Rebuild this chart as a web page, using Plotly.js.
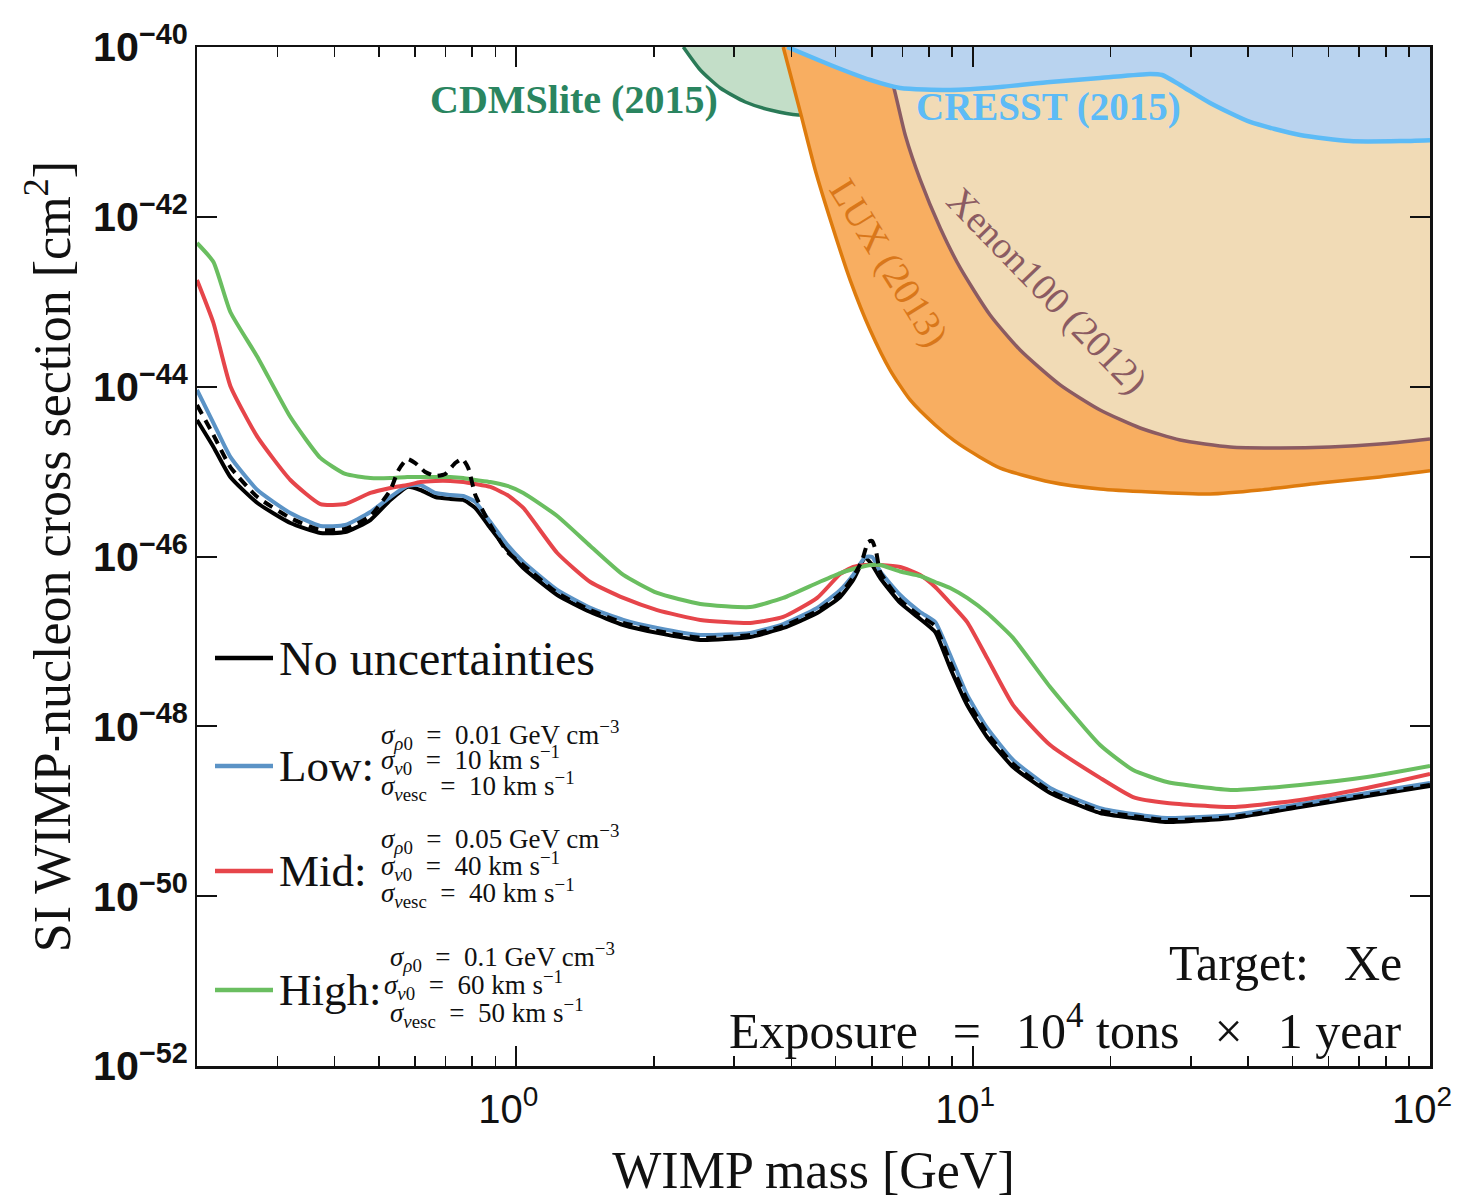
<!DOCTYPE html>
<html>
<head>
<meta charset="utf-8">
<script src="https://cdn.plot.ly/plotly-3.0.1.min.js"></script>
<style>
  html, body { margin: 0; padding: 0; background: #ffffff; }
  #chart { width: 1461px; height: 1199px; }
</style>
</head>
<body>
<div id="chart"></div>
<script>
// WIMP mass grid [GeV] shared by the projected-limit curves
const massGrid = [0.200, 0.2173, 0.2366, 0.2712, 0.3202, 0.3725, 0.4223, 0.4792, 0.5301, 0.5774,
  0.6166, 0.6648, 0.7172, 0.7656, 0.8134, 0.8772, 0.9557, 1.036, 1.229, 1.452,
  1.715, 2.034, 2.528, 3.251, 3.839, 4.556, 5.117, 5.463, 5.803, 6.012,
  6.259, 6.923, 7.656, 8.259, 8.906, 9.703, 10.73, 12.23, 14.74, 18.96,
  22.39, 26.58, 37.06, 51.94, 72.80, 100];

// SI WIMP-nucleon cross sections [cm^2]
const sigmaNoUnc = [4.05e-45, 1.95e-45, 8.64e-46, 4.27e-46, 2.48e-46, 1.89e-46, 1.94e-46, 2.69e-46, 4.63e-46, 6.59e-46,
  6.07e-46, 5.02e-46, 4.76e-46, 4.63e-46, 3.73e-46, 2.17e-46, 1.19e-46, 7.32e-47, 3.52e-47, 2.22e-47,
  1.56e-47, 1.26e-47, 1.04e-47, 1.13e-47, 1.44e-47, 2.16e-47, 3.34e-47, 5.29e-47, 9.60e-47, 7.94e-47,
  5.58e-47, 2.84e-47, 1.84e-47, 1.29e-47, 4.87e-48, 1.78e-48, 7.49e-49, 3.32e-49, 1.64e-49, 9.54e-50,
  8.33e-50, 7.47e-50, 8.33e-50, 1.12e-49, 1.51e-49, 1.98e-49];

const sigmaLow = [9.14e-45, 3.73e-45, 1.49e-45, 6.07e-46, 3.25e-46, 2.29e-46, 2.35e-46, 3.34e-46, 5.02e-46, 6.77e-46,
  6.95e-46, 5.60e-46, 5.30e-46, 5.16e-46, 4.38e-46, 2.55e-46, 1.37e-46, 8.62e-47, 4.03e-47, 2.48e-47,
  1.79e-47, 1.44e-47, 1.19e-47, 1.26e-47, 1.60e-47, 2.48e-47, 4.03e-47, 6.06e-47, 9.87e-47, 9.87e-47,
  6.66e-47, 3.52e-47, 2.22e-47, 1.69e-47, 6.92e-48, 2.34e-48, 9.56e-49, 4.02e-49, 1.88e-49, 1.09e-49,
  9.29e-50, 8.33e-50, 9.04e-50, 1.22e-49, 1.64e-49, 2.15e-49];

const sigmaMid = [1.80e-43, 5.62e-44, 1.02e-44, 2.56e-45, 7.96e-46, 4.15e-46, 4.15e-46, 5.60e-46, 6.41e-46, 6.95e-46,
  7.54e-46, 7.75e-46, 7.75e-46, 7.54e-46, 7.14e-46, 6.59e-46, 5.30e-46, 3.73e-46, 1.10e-46, 5.01e-47,
  3.25e-47, 2.34e-47, 1.79e-47, 1.65e-47, 1.94e-47, 3.25e-47, 6.22e-47, 7.52e-47, 7.94e-47, 7.94e-47,
  7.94e-47, 7.52e-47, 6.06e-47, 4.38e-47, 2.84e-47, 1.69e-47, 6.38e-48, 1.78e-48, 6.03e-49, 2.47e-49,
  1.47e-49, 1.25e-49, 1.12e-49, 1.36e-49, 1.88e-49, 2.75e-49];

const sigmaHigh = [4.92e-43, 2.94e-43, 7.58e-44, 2.24e-44, 4.39e-45, 1.45e-45, 9.37e-46, 8.40e-46, 8.40e-46, 8.64e-46,
  8.64e-46, 8.64e-46, 8.64e-46, 8.40e-46, 7.96e-46, 7.54e-46, 6.77e-46, 5.60e-46, 3.00e-46, 1.33e-46,
  6.06e-47, 3.72e-47, 2.76e-47, 2.54e-47, 3.25e-47, 4.88e-47, 6.39e-47, 7.13e-47, 7.73e-47, 7.94e-47,
  7.94e-47, 6.66e-47, 5.89e-47, 5.01e-47, 4.26e-47, 3.25e-47, 2.16e-47, 1.10e-47, 2.91e-48, 6.03e-49,
  3.06e-49, 2.21e-49, 1.78e-49, 2.04e-49, 2.53e-49, 3.41e-49];

// dashed reference curve (finer sampling around the resonance features)
const massDashed = [0.200, 0.2173, 0.2366, 0.2712, 0.3202, 0.3725, 0.4223, 0.4792, 0.5301, 0.552,
  0.5774, 0.601, 0.632, 0.6648, 0.699, 0.735, 0.762, 0.785, 0.8134, 0.8772,
  0.9557, 1.036, 1.229, 1.452, 1.715, 2.034, 2.528, 3.251, 3.839, 4.556,
  5.117, 5.463, 5.716, 5.891, 6.012, 6.134, 6.259, 6.923, 7.656, 8.259,
  8.906, 9.703, 10.73, 12.23, 14.74, 18.96, 22.39, 26.58, 37.06, 51.94, 72.80, 100];
const sigmaDashed = [6.08e-45, 2.70e-45, 1.13e-45, 5.02e-46, 2.84e-46, 2.05e-46, 2.11e-46, 3.00e-46, 6.07e-46, 1.04e-45,
  1.41e-45, 1.26e-45, 9.89e-46, 8.87e-46, 9.37e-46, 1.26e-45, 1.41e-45, 1.10e-45, 5.30e-46, 2.35e-46,
  1.13e-46, 7.94e-47, 3.72e-47, 2.34e-47, 1.65e-47, 1.33e-47, 1.10e-47, 1.19e-47, 1.52e-47, 2.28e-47,
  3.62e-47, 5.74e-47, 9.10e-47, 1.48e-46, 1.52e-46, 1.13e-46, 6.57e-47, 3.07e-47, 1.99e-47, 1.52e-47,
  5.73e-48, 2.04e-48, 8.35e-49, 3.60e-49, 1.73e-49, 1.01e-49, 8.79e-50, 7.89e-50, 8.56e-50, 1.15e-49, 1.55e-49, 2.04e-49];

// existing experimental exclusion limits
const cdmsMass  = [2.320, 2.528, 2.795, 3.171, 3.596, 4.141, 4.87];
const cdmsSigma = [1.0e-40, 5.36e-41, 3.29e-41, 2.25e-41, 1.81e-41, 1.58e-41, 1.72e-41];

const luxMass  = [3.839, 4.183, 4.511, 4.87, 5.38, 5.95, 6.58, 7.28, 8.26, 9.37, 11.46, 14.74, 18.96, 24.40, 33.01, 42.46, 57.44, 77.7, 100];
const luxSigma = [1.0e-40, 1.72e-41, 3.56e-42, 9.18e-43, 1.80e-43, 4.65e-44, 1.57e-44, 6.97e-45, 3.54e-45, 2.06e-45, 1.10e-45, 7.54e-46, 6.24e-46, 5.75e-46, 5.45e-46, 6.07e-46, 7.35e-46, 8.64e-46, 1.02e-45];

const xenonMass  = [6.26, 6.68, 7.10, 7.66, 8.47, 9.37, 10.89, 12.67, 15.50, 18.96, 23.20, 28.38, 36.51, 46.96, 60.41, 77.7, 100];
const xenonSigma = [1.0e-40, 3.57e-41, 9.2e-42, 2.72e-42, 7.39e-43, 2.50e-43, 6.98e-44, 2.70e-44, 1.05e-44, 5.31e-45, 3.26e-45, 2.35e-45, 1.95e-45, 1.90e-45, 1.95e-45, 2.11e-45, 2.42e-45];

const cresstMass  = [3.917, 4.87, 5.95, 6.92, 8.91, 11.46, 14.74, 18.96, 24.40, 25.92, 28.38, 33.01, 40.37, 51.94, 66.81, 86.0, 100];
const cresstSigma = [1.0e-40, 6.14e-41, 4.09e-41, 3.29e-41, 3.12e-41, 3.38e-41, 3.87e-41, 4.31e-41, 4.81e-41, 4.68e-41, 3.57e-41, 2.19e-41, 1.31e-41, 9.2e-42, 7.8e-42, 7.8e-42, 8.0e-42];

// axis extents and labelled ticks
const massRange = [0.2, 100];
const sigmaRange = [1e-52, 1e-40];
const massTickVals = [1, 10, 100];
const massTickText = ['10<sup>0</sup>', '10<sup>1</sup>', '10<sup>2</sup>'];

const SERIF = 'Liberation Serif, DejaVu Serif, serif';
const SANS = 'Liberation Sans, Arial, sans-serif';
const NARROW = 'Liberation Sans Narrow, Liberation Sans, Arial, sans-serif';

// a region excluded above a limit curve: close the polygon along the top of the frame
function excludedRegion(mass, sigma, fillColor) {
  const top = sigmaRange[1];
  return {
    x: mass.concat([mass[mass.length - 1], mass[0]]),
    y: sigma.concat([top, top]),
    type: 'scatter', mode: 'lines', fill: 'toself',
    fillcolor: fillColor, line: { width: 0 }, hoverinfo: 'skip', showlegend: false
  };
}
function limitLine(mass, sigma, color, width) {
  return {
    x: mass, y: sigma, type: 'scatter', mode: 'lines',
    line: { color: color, width: width, shape: 'spline', smoothing: 0.6 },
    showlegend: false
  };
}
function projection(mass, sigma, color, name, dash) {
  return {
    x: mass, y: sigma, type: 'scatter', mode: 'lines', name: name,
    line: { color: color, width: 4, shape: 'spline', smoothing: 0.5, dash: dash || 'solid' },
    showlegend: false
  };
}

const traces = [
  excludedRegion(cdmsMass, cdmsSigma, '#c3dec8'),
  limitLine(cdmsMass, cdmsSigma, '#2a7a57', 3.5),
  excludedRegion(luxMass, luxSigma, '#f8ae61'),
  limitLine(luxMass, luxSigma, '#de7b0d', 3.5),
  excludedRegion(xenonMass, xenonSigma, '#f1dbb6'),
  limitLine(xenonMass, xenonSigma, '#8b5b62', 3.5),
  excludedRegion(cresstMass, cresstSigma, '#b9d3ef'),
  limitLine(cresstMass, cresstSigma, '#5dbbf6', 4.5),
  projection(massGrid, sigmaNoUnc, '#000000', 'No uncertainties'),
  projection(massGrid, sigmaLow, '#5b93c6', 'Low'),
  projection(massGrid, sigmaMid, '#e6454a', 'Mid'),
  projection(massGrid, sigmaHigh, '#6abe60', 'High'),
  projection(massDashed, sigmaDashed, '#000000', 'No uncertainties (dashed)', '10px,7px')
];

// legend drawn by hand: sample line + label + parameter block
const L = { left: 197, right: 1430, top: 47, bottom: 1066 };
const px = v => (v - L.left) / (L.right - L.left);
const py = v => (L.bottom - v) / (L.bottom - L.top);
const EQ = '\u2002=\u2002';
const WIDE = '\u2002\u2009';

const legendRows = [
  { color: '#000000', label: 'No uncertainties', y: 658, params: [] },
  { color: '#5b93c6', label: 'Low:', y: 766, params: [
      { x: 379, y: 735, t: '<i>σ</i><sub><i>ρ</i>0</sub>' + EQ + '0.01 GeV cm<sup>−3</sup>' },
      { x: 379, y: 760, t: '<i>σ</i><sub><i>v</i>0</sub>' + EQ + '10 km s<sup>−1</sup>' },
      { x: 379, y: 786, t: '<i>σ</i><sub><i>v</i>esc</sub>' + EQ + '10 km s<sup>−1</sup>' } ] },
  { color: '#e6454a', label: 'Mid:', y: 871, params: [
      { x: 379, y: 839, t: '<i>σ</i><sub><i>ρ</i>0</sub>' + EQ + '0.05 GeV cm<sup>−3</sup>' },
      { x: 379, y: 866, t: '<i>σ</i><sub><i>v</i>0</sub>' + EQ + '40 km s<sup>−1</sup>' },
      { x: 379, y: 893, t: '<i>σ</i><sub><i>v</i>esc</sub>' + EQ + '40 km s<sup>−1</sup>' } ] },
  { color: '#6abe60', label: 'High:', y: 990, params: [
      { x: 388, y: 957, t: '<i>σ</i><sub><i>ρ</i>0</sub>' + EQ + '0.1 GeV cm<sup>−3</sup>' },
      { x: 382, y: 985, t: '<i>σ</i><sub><i>v</i>0</sub>' + EQ + '60 km s<sup>−1</sup>' },
      { x: 388, y: 1013, t: '<i>σ</i><sub><i>v</i>esc</sub>' + EQ + '50 km s<sup>−1</sup>' } ] }
];

const shapes = [];
const annotations = [];
legendRows.forEach(r => {
  shapes.push({ type: 'line', xref: 'paper', yref: 'paper', x0: px(215), x1: px(273), y0: py(r.y), y1: py(r.y),
    line: { color: r.color, width: 4.5 } });
  annotations.push({ xref: 'paper', yref: 'paper', x: px(277), y: py(r.y), xanchor: 'left', yanchor: 'middle',
    text: r.label, showarrow: false, font: { family: SERIF, size: r.params.length ? 45 : 48, color: '#111111' } });
  r.params.forEach(p => annotations.push({ xref: 'paper', yref: 'paper', x: px(p.x), y: py(p.y),
    xanchor: 'left', yanchor: 'middle', text: p.t, showarrow: false,
    font: { family: SERIF, size: 27, color: '#111111' } }));
});

// experiment labels and target / exposure note
function note(x, y, text, opts) {
  return Object.assign({ xref: 'paper', yref: 'paper', x: px(x), y: py(y), text: text, showarrow: false,
    xanchor: 'center', yanchor: 'middle' }, opts);
}
annotations.push(
  note(574, 100, '<b>CDMSlite (2015)</b>', { font: { family: SERIF, size: 40, color: '#2a8560' } }),
  note(1048, 107, '<b>CRESST (2015)</b>', { font: { family: SERIF, size: 39, color: '#5dbbf6' } }),
  note(889, 262, 'LUX (2013)', { textangle: 58, font: { family: SERIF, size: 38, color: '#d9771a' } }),
  note(1047, 290, 'Xenon100 (2012)', { textangle: 46, font: { family: SERIF, size: 38, color: '#8b5b62' } }),
  note(1404, 963, 'Target:' + WIDE + 'Xe', { xanchor: 'right', font: { family: SERIF, size: 50, color: '#111111' } }),
  note(1404, 1027, 'Exposure' + WIDE + '=' + WIDE + '10<sup>4</sup> tons' + WIDE + '×' + WIDE + '1 year',
    { xanchor: 'right', font: { family: SERIF, size: 50, color: '#111111' } })
);

const layout = {
  width: 1461, height: 1199,
  margin: { l: 197, r: 31, t: 47, b: 133 },
  paper_bgcolor: '#ffffff', plot_bgcolor: '#ffffff',
  showlegend: false,
  xaxis: {
    type: 'log', range: [Math.log10(massRange[0]), Math.log10(massRange[1])],
    tickmode: 'array', tickvals: massTickVals, ticktext: massTickText,
    ticks: 'inside', ticklen: 20, tickwidth: 2, tickcolor: '#111111',
    ticklabelshift: -8, ticklabelstandoff: 6,
    minor: { ticks: 'inside', ticklen: 10, tickwidth: 1.6, tickcolor: '#111111', dtick: 'D1', showgrid: false },
    showline: true, linewidth: 2.5, linecolor: '#111111', mirror: 'allticks',
    showgrid: false, zeroline: false,
    tickfont: { family: NARROW, size: 40, color: '#111111' },
    title: { text: 'WIMP mass [GeV]', font: { family: SERIF, size: 52, color: '#111111' }, standoff: 22 }
  },
  yaxis: {
    type: 'log', range: [Math.log10(sigmaRange[0]), Math.log10(sigmaRange[1])],
    dtick: 2, tick0: 0, exponentformat: 'power',
    ticks: 'inside', ticklen: 20, tickwidth: 2, tickcolor: '#111111',
    showline: true, linewidth: 2.5, linecolor: '#111111', mirror: 'allticks',
    showgrid: false, zeroline: false,
    tickfont: { family: SANS, size: 33, color: '#111111', weight: 'bold' },
    title: { text: 'SI WIMP-nucleon cross section [cm<sup>2</sup>]', font: { family: SERIF, size: 52, color: '#111111' }, standoff: 6 }
  },
  shapes: shapes,
  annotations: annotations
};

Plotly.newPlot('chart', traces, layout, { staticPlot: true, displayModeBar: false });
</script>
</body>
</html>
